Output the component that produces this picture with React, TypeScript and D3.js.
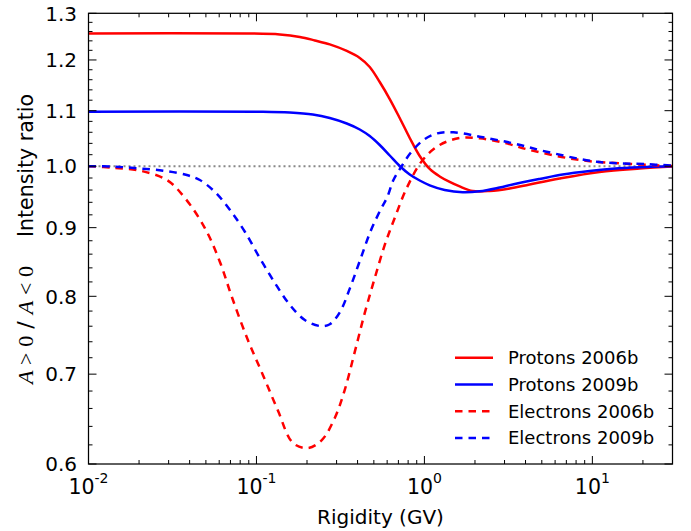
import React from 'react';
import * as d3 from 'd3';

// ---- data (rigidity in GV, intensity ratio) ----
const protons2006bR = [0.01, 0.0877, 0.1378, 0.1812, 0.2226, 0.2733, 0.3449, 0.4122, 0.4726, 0.542, 0.6217, 0.7127, 0.8177, 0.9376, 1.0753, 1.2332, 1.4141, 1.6218, 1.9381, 2.4455, 3.2172, 4.2306, 6.3811, 11.036, 19.09, 30];
const protons2006bV = [1.2558, 1.2558, 1.2537, 1.2484, 1.2409, 1.2324, 1.2187, 1.2041, 1.1857, 1.1554, 1.1222, 1.0863, 1.0497, 1.0177, 0.9953, 0.9826, 0.9734, 0.9659, 0.9584, 0.9584, 0.9625, 0.9692, 0.9792, 0.9902, 0.9961, 0.9995];

const protons2009bR = [0.01, 0.1092, 0.158, 0.2165, 0.2733, 0.3449, 0.4122, 0.4726, 0.542, 0.6217, 0.7127, 0.8177, 0.9376, 1.0753, 1.3205, 1.6897, 2.1329, 2.8053, 3.3517, 4.8527, 6.6483, 9.624, 13.19, 19.09, 30];
const protons2009bV = [1.0981, 1.0981, 1.0966, 1.0928, 1.0863, 1.0761, 1.0651, 1.0532, 1.0371, 1.0186, 1.0004, 0.9859, 0.9758, 0.9678, 0.9601, 0.9563, 0.9579, 0.9642, 0.9692, 0.9784, 0.9859, 0.9919, 0.9956, 0.9982, 0.9998];

const electrons2006bR = [0.01, 0.014, 0.0203, 0.0293, 0.0375, 0.0493, 0.0606, 0.0714, 0.0889, 0.1092, 0.134, 0.1648, 0.2023, 0.245, 0.2927, 0.3356, 0.3849, 0.4415, 0.5063, 0.5806, 0.6656, 0.785, 0.977, 1.233, 1.622, 2.133, 3.005, 4.234, 8.395, 16.63, 30];
const electrons2006bV = [1.0, 0.9975, 0.9924, 0.9767, 0.947, 0.8994, 0.8486, 0.799, 0.7422, 0.6991, 0.658, 0.6222, 0.6167, 0.6252, 0.6493, 0.6814, 0.7272, 0.7775, 0.8255, 0.8737, 0.915, 0.9634, 1.0108, 1.0371, 1.0496, 1.049, 1.0407, 1.0283, 1.0108, 1.004, 1.0005];

const electrons2009bR = [0.01, 0.014, 0.0194, 0.0278, 0.0385, 0.046, 0.0566, 0.0696, 0.0855, 0.1046, 0.1286, 0.158, 0.194, 0.2378, 0.2733, 0.3141, 0.3608, 0.4144, 0.476, 0.547, 0.602, 0.654, 0.719, 0.824, 0.986, 1.193, 1.49, 2.133, 3.35, 5.34, 10.6, 21.1, 30];
const electrons2009bV = [1.0, 0.9995, 0.9965, 0.9924, 0.985, 0.9767, 0.9568, 0.9277, 0.8933, 0.8545, 0.8187, 0.7884, 0.7681, 0.7603, 0.7626, 0.7787, 0.8116, 0.8515, 0.8933, 0.9277, 0.949, 0.9767, 0.9965, 1.0224, 1.0459, 1.058, 1.06, 1.052, 1.0403, 1.0252, 1.0078, 1.0035, 1.001];

const seriesNames = ['Protons 2006b', 'Protons 2009b', 'Electrons 2006b', 'Electrons 2009b'];
const seriesColors = ['#ff0000', '#0000ff', '#ff0000', '#0000ff'];
const seriesDashed = [false, false, true, true];
const seriesR = [protons2006bR, protons2009bR, electrons2006bR, electrons2009bR];
const seriesV = [protons2006bV, protons2009bV, electrons2006bV, electrons2009bV];

const xTickExponents = ['-2', '-1', '0', '1'];
const yTickValues = [0.6, 0.7, 0.8, 0.9, 1.0, 1.1, 1.2, 1.3];
const yTickLabels = ['0.6', '0.7', '0.8', '0.9', '1.0', '1.1', '1.2', '1.3'];
const referenceLevel = 1.0;

const W = 691;
const H = 531;
const L = 88.5;
const R = 672.5;
const T = 13.3;
const B = 464;
const FONT = 'DejaVu Sans, sans-serif';
const SERIF = 'Liberation Serif, serif';

export default function App() {
  const x = d3.scaleLog().domain([0.01, 30]).range([L, R]);
  const y = d3.scaleLog().domain([0.6, 1.3]).range([B, T]);

  const line = d3
    .line<[number, number]>()
    .x((d) => x(d[0]))
    .y((d) => y(d[1]))
    .curve(d3.curveCatmullRom.alpha(0.5));

  const xMajor = xTickExponents.map((e) => Math.pow(10, +e));
  const xMinor: number[] = [];
  for (let d = -2; d <= 1; d++) {
    for (let m = 2; m <= 9; m++) {
      const v = m * Math.pow(10, d);
      if (v <= 30.0001) xMinor.push(v);
    }
  }
  const yMinor: number[] = [];
  for (let i = 30; i <= 65; i++) {
    if (i % 5 !== 0) yMinor.push(i * 0.02);
  }

  const majLen = 8;
  const minLen = 4;

  return (
    <svg width={W} height={H} style={{ position: 'absolute', left: 0, top: 0, display: 'block' }} fontFamily={FONT}>
      <rect x={0} y={0} width={W} height={H} fill="#ffffff" />
      <defs>
        <clipPath id="plotclip">
          <rect x={L} y={T} width={R - L} height={B - T} />
        </clipPath>
      </defs>
      {/* reference line */}
      <line x1={L} x2={R} y1={y(referenceLevel)} y2={y(referenceLevel)} stroke="#888888" strokeWidth={2} strokeDasharray="2,3" />
      {/* curves */}
      <g clipPath="url(#plotclip)">
        {seriesNames.map((name, i) => {
          const pts = seriesR[i].map((r, j) => [r, seriesV[i][j]] as [number, number]);
          return (
            <path
              key={name}
              d={line(pts) || ''}
              fill="none"
              stroke={seriesColors[i]}
              strokeWidth={2.5}
              strokeDasharray={seriesDashed[i] ? '7.5,6' : undefined}
            />
          );
        })}
      </g>
      {/* ticks */}
      <g stroke="#000" strokeWidth={1}>
        {xMajor.map((v, i) => (
          <g key={'xm' + i}>
            <line x1={x(v)} x2={x(v)} y1={B} y2={B - majLen} />
            <line x1={x(v)} x2={x(v)} y1={T} y2={T + majLen} />
          </g>
        ))}
        {xMinor.map((v, i) => (
          <g key={'xn' + i}>
            <line x1={x(v)} x2={x(v)} y1={B} y2={B - minLen} />
            <line x1={x(v)} x2={x(v)} y1={T} y2={T + minLen} />
          </g>
        ))}
        {yTickValues.map((v, i) => (
          <g key={'ym' + i}>
            <line x1={L} x2={L + majLen} y1={y(v)} y2={y(v)} />
            <line x1={R} x2={R - majLen} y1={y(v)} y2={y(v)} />
          </g>
        ))}
        {yMinor.map((v, i) => (
          <g key={'yn' + i}>
            <line x1={L} x2={L + minLen} y1={y(v)} y2={y(v)} />
            <line x1={R} x2={R - minLen} y1={y(v)} y2={y(v)} />
          </g>
        ))}
      </g>
      {/* frame */}
      <rect x={L} y={T} width={R - L} height={B - T} fill="none" stroke="#000" strokeWidth={1.25} />
      {/* y tick labels */}
      {yTickValues.map((v, i) => (
        <text key={'yl' + i} x={77} y={y(v)} dy="0.36em" textAnchor="end" fontSize={20} fill="#000">
          {yTickLabels[i]}
        </text>
      ))}
      {/* x tick labels */}
      {xMajor.map((v, i) => (
        <text key={'xl' + i} x={x(v)} y={494} textAnchor="middle" fontSize={20.5} fill="#000">
          10
          <tspan fontSize={14} dy={-11}>
            {xTickExponents[i]}
          </tspan>
        </text>
      ))}
      {/* axis titles */}
      <text x={(L + R) / 2} y={524} textAnchor="middle" fontSize={20} fill="#000">
        Rigidity (GV)
      </text>
      <text transform="translate(33,384) rotate(-90)" textAnchor="start" fontSize={22} fill="#000" textLength={118} lengthAdjust="spacing">
        <tspan fontFamily={SERIF} fontStyle="italic">A</tspan>
        <tspan fontFamily={SERIF}> &gt; 0</tspan>
        <tspan> / </tspan>
        <tspan fontFamily={SERIF} fontStyle="italic">A</tspan>
        <tspan fontFamily={SERIF}> &lt; 0</tspan>
      </text>
      <text transform="translate(33,237) rotate(-90)" textAnchor="start" fontSize={20.5} fill="#000">
        Intensity ratio
      </text>
      {/* legend */}
      <g>
        {seriesNames.map((name, i) => {
          const ly = 357.7 + i * 26.75;
          return (
            <g key={'lg' + i}>
              <line
                x1={455}
                x2={493}
                y1={ly}
                y2={ly}
                stroke={seriesColors[i]}
                strokeWidth={2.5}
                strokeDasharray={seriesDashed[i] ? '7.5,6' : undefined}
              />
              <text x={508} y={ly} dy="0.36em" fontSize={18} fill="#000">
                {name}
              </text>
            </g>
          );
        })}
      </g>
    </svg>
  );
}
